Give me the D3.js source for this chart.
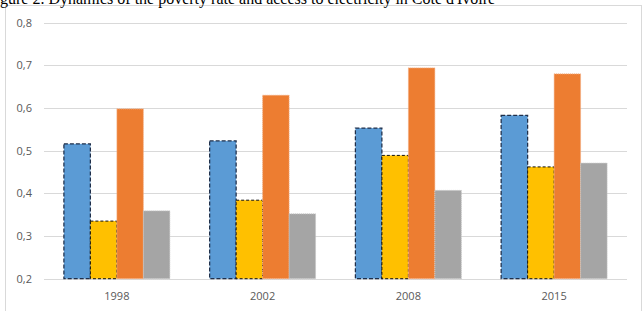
<!DOCTYPE html>
<html>
<head>
<meta charset="utf-8">
<script src="https://cdn.jsdelivr.net/npm/d3@7"></script>
<style>
  body { margin: 0; background: #fff; }
  svg { display: block; }
</style>
</head>
<body>
<div id="chart"></div>
<script>
// Data
const years = ["1998", "2002", "2008", "2015"];
const seriesNames = ["s1", "s2", "s3", "s4"];
const s1 = [0.516, 0.523, 0.553, 0.583];
const s2 = [0.335, 0.384, 0.489, 0.462];
const s3 = [0.598, 0.630, 0.694, 0.680];
const s4 = [0.359, 0.352, 0.407, 0.471];
const yTicks = [0.2, 0.3, 0.4, 0.5, 0.6, 0.7, 0.8];
const title = "Figure 2. Dynamics of the poverty rate and access to electricity in Côte d'Ivoire";

const seriesValues = [s1, s2, s3, s4];
const styles = [
  { fill: "#5b9bd5", stroke: "#1f2f4a", dash: "4,2", sw: 1.25 },
  { fill: "#ffc000", stroke: "#111", dash: "3,2", sw: 1 },
  { fill: "#ed7d31", stroke: "#f2b088", dash: "1,1", sw: 1 },
  { fill: "#a5a5a5", stroke: "#c8c8c8", dash: "1,1", sw: 1 },
];

const width = 644, height = 311;
const plot = { left: 44, right: 627, top: 22.7, bottom: 278.7 };

const svg = d3.select("#chart").append("svg")
  .attr("width", width).attr("height", height);

// Chart frame
svg.append("rect")
  .attr("x", 5.5).attr("y", 5.5)
  .attr("width", 636).attr("height", 320)
  .attr("fill", "#fff").attr("stroke", "#d9d9d9");

// Title (cut off at the top of the page)
const t = svg.append("text")
  .attr("y", 4)
  .attr("font-family", "Liberation Serif, serif")
  .attr("font-size", 16)
  .attr("fill", "#000")
  .text(title);
const probe = svg.append("text")
  .attr("font-family", "Liberation Serif, serif")
  .attr("font-size", 16)
  .text("Fi");
t.attr("x", -probe.node().getComputedTextLength());
probe.remove();

// Scales
const yScale = d3.scaleLinear().domain([0.2, 0.8]).range([plot.bottom, plot.top]);
const xScale = d3.scaleBand().domain(years).range([plot.left, plot.right])
  .paddingInner(0.273).paddingOuter(0.1365);
const x1 = d3.scaleBand().domain(seriesNames).range([0, xScale.bandwidth()]);

// Gridlines
svg.append("g").selectAll("line").data(yTicks).join("line")
  .attr("x1", plot.left).attr("x2", plot.right)
  .attr("y1", d => Math.round(yScale(d)) + 0.5)
  .attr("y2", d => Math.round(yScale(d)) + 0.5)
  .attr("stroke", "#d9d9d9").attr("stroke-width", 1);

// Y axis labels
svg.append("g").selectAll("text").data(yTicks).join("text")
  .attr("x", 32).attr("y", d => yScale(d))
  .attr("dy", "0.35em")
  .attr("text-anchor", "end")
  .attr("font-family", "Open Sans, sans-serif")
  .attr("font-size", 11)
  .attr("fill", "#595959")
  .text(d => d3.format(".1f")(d).replace(".", ","));

// X axis labels
svg.append("g").selectAll("text").data(years).join("text")
  .attr("x", d => xScale(d) + xScale.bandwidth() / 2)
  .attr("y", 296).attr("dy", "0.35em")
  .attr("text-anchor", "middle")
  .attr("font-family", "Open Sans, sans-serif")
  .attr("font-size", 11)
  .attr("fill", "#595959")
  .text(d => d);

// Bars
seriesNames.forEach((s, i) => {
  const st = styles[i];
  svg.append("g").selectAll("rect").data(years).join("rect")
    .attr("x", (d) => xScale(d) + x1(s))
    .attr("width", x1.bandwidth())
    .attr("y", (d, j) => yScale(seriesValues[i][j]))
    .attr("height", (d, j) => yScale(0.2) - yScale(seriesValues[i][j]))
    .attr("fill", st.fill)
    .attr("stroke", st.stroke)
    .attr("stroke-width", st.sw)
    .attr("stroke-dasharray", st.dash);
});
</script>
</body>
</html>
